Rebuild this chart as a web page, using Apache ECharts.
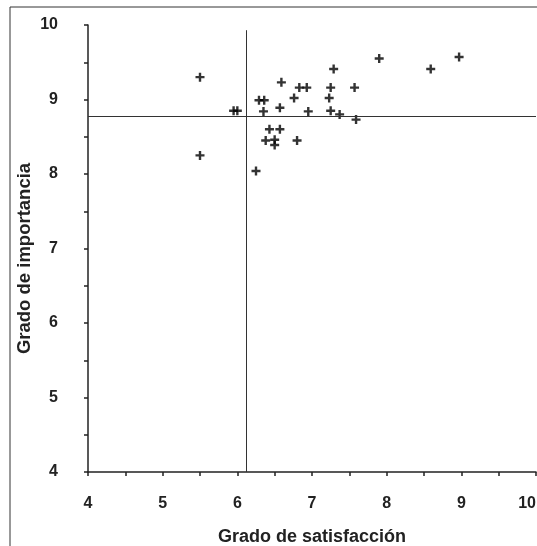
<!DOCTYPE html>
<html>
<head>
<meta charset="utf-8">
<script src="https://cdn.jsdelivr.net/npm/echarts@6/dist/echarts.min.js"></script>
<style>html,body{margin:0;padding:0;background:#fff;}#c{width:537px;height:546px;}</style>
</head>
<body>
<div id="c"></div>
<script>
const satisfaccion = [5.50, 5.50, 5.95, 6.00, 6.29, 6.36, 6.35, 6.25, 6.59, 6.57, 6.43, 6.57, 6.38, 6.50, 6.50, 6.80, 6.76, 6.83, 6.93, 6.95, 7.29, 7.25, 7.23, 7.25, 7.37, 7.57, 7.59, 7.90, 8.59, 8.97];
const importancia  = [9.30, 8.25, 8.85, 8.85, 8.99, 8.99, 8.84, 8.04, 9.23, 8.89, 8.60, 8.60, 8.45, 8.46, 8.39, 8.45, 9.02, 9.16, 9.16, 8.84, 9.41, 9.16, 9.02, 8.85, 8.80, 9.16, 8.73, 9.55, 9.41, 9.57];
const mediaSatisfaccion = 6.12;
const mediaImportancia = 8.77;
const xTitle = 'Grado de satisfacción';
const yTitle = 'Grado de importancia';

const points = satisfaccion.map((x, i) => [x, importancia[i]]);
const chart = echarts.init(document.getElementById('c'));
const font = 'Liberation Sans, Arial, sans-serif';
const axisCommon = {
  type: 'value', min: 4, max: 10, interval: 1,
  axisLine: { show: true, lineStyle: { color: '#222', width: 1.5 } },
  axisTick: { show: true, inside: false, length: 4, lineStyle: { color: '#222', width: 1.5 } },
  minorTick: { show: true, splitNumber: 2, length: 4, lineStyle: { color: '#222', width: 1.5 } },
  splitLine: { show: false },
  axisLabel: { color: '#222', fontWeight: 'bold', fontSize: 16, fontFamily: font },
  nameLocation: 'middle',
  nameMoveOverlap: false,
  nameTextStyle: { color: '#222', fontWeight: 'bold', fontSize: 18, fontFamily: font }
};
chart.setOption({
  animation: false,
  backgroundColor: '#fff',
  graphic: [{
    type: 'rect', silent: true, z: -1,
    shape: { x: 10, y: 7, width: 540, height: 550 },
    style: { fill: 'none', stroke: '#333', lineWidth: 1 }
  }],
  grid: { left: 88, right: 1, top: 25, bottom: 74, containLabel: false, outerBoundsMode: 'none' },
  xAxis: Object.assign({}, axisCommon, {
    name: xTitle, nameGap: 56,
    axisLabel: Object.assign({}, axisCommon.axisLabel, { margin: 24, alignMaxLabel: 'right' })
  }),
  yAxis: Object.assign({}, axisCommon, {
    name: yTitle, nameGap: 54,
    nameTextStyle: Object.assign({}, axisCommon.nameTextStyle, { fontSize: 18.5, padding: [0, 20, 0, 0] }),
    axisLabel: Object.assign({}, axisCommon.axisLabel, { margin: 30 })
  }),
  series: [{
    type: 'scatter',
    data: points,
    symbol: 'path://M0,5 L10,5 M5,0 L5,10',
    symbolSize: 9,
    itemStyle: { color: 'none', borderColor: '#000', borderWidth: 2.4 },
    markLine: {
      silent: true, symbol: 'none', label: { show: false },
      lineStyle: { color: '#333', width: 1, type: 'solid' },
      data: [
        [{ coord: [mediaSatisfaccion, 4] }, { coord: [mediaSatisfaccion, 9.93] }],
        { yAxis: mediaImportancia }
      ]
    }
  }]
});
</script>
</body>
</html>
